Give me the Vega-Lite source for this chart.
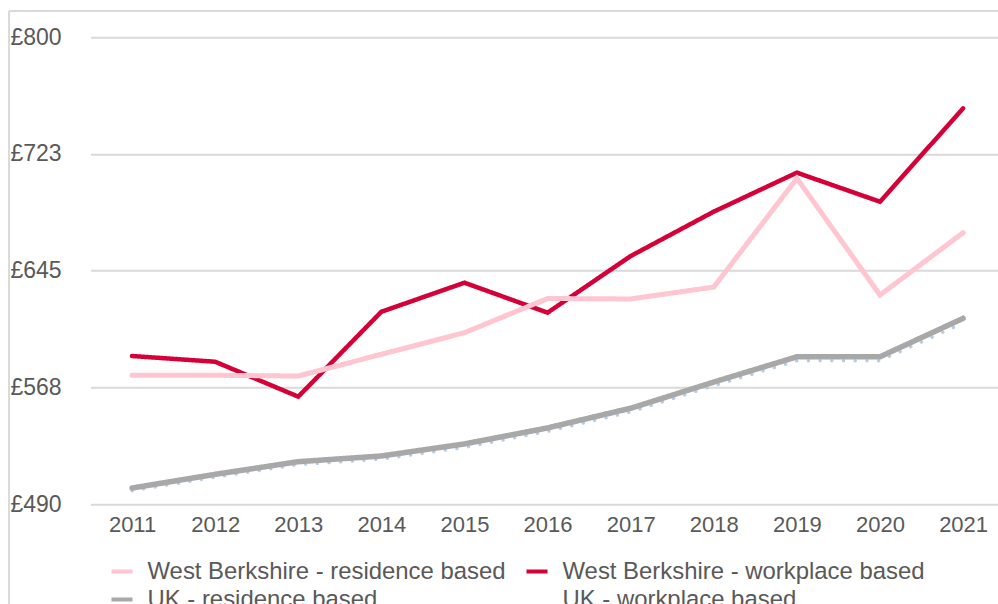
{
  "$schema": "https://vega.github.io/schema/vega-lite/v6.json",
  "autosize": {"type": "none"},
  "padding": {"left": 90.5, "top": 37.3, "right": 0, "bottom": 100},
  "width": 907.5,
  "height": 466.7,
  "config": {
    "font": "Liberation Sans",
    "view": {"stroke": null},
    "axis": {"labelColor": "#595959", "labelFont": "Liberation Sans"},
    "legend": {"labelColor": "#595959", "labelFont": "Liberation Sans"}
  },
  "layer": [
    {
      "data": {
        "values": [
          {"year": 2011, "series": "West Berkshire - workplace based", "pay": 588.3},
          {"year": 2012, "series": "West Berkshire - workplace based", "pay": 584.5},
          {"year": 2013, "series": "West Berkshire - workplace based", "pay": 561.3},
          {"year": 2014, "series": "West Berkshire - workplace based", "pay": 617.7},
          {"year": 2015, "series": "West Berkshire - workplace based", "pay": 637.0},
          {"year": 2016, "series": "West Berkshire - workplace based", "pay": 617.1},
          {"year": 2017, "series": "West Berkshire - workplace based", "pay": 654.7},
          {"year": 2018, "series": "West Berkshire - workplace based", "pay": 684.2},
          {"year": 2019, "series": "West Berkshire - workplace based", "pay": 710.1},
          {"year": 2020, "series": "West Berkshire - workplace based", "pay": 690.8},
          {"year": 2021, "series": "West Berkshire - workplace based", "pay": 752.8},
          {"year": 2011, "series": "West Berkshire - residence based", "pay": 575.5},
          {"year": 2012, "series": "West Berkshire - residence based", "pay": 575.5},
          {"year": 2013, "series": "West Berkshire - residence based", "pay": 575.0},
          {"year": 2014, "series": "West Berkshire - residence based", "pay": 589.4},
          {"year": 2015, "series": "West Berkshire - residence based", "pay": 603.8},
          {"year": 2016, "series": "West Berkshire - residence based", "pay": 626.5},
          {"year": 2017, "series": "West Berkshire - residence based", "pay": 626.2},
          {"year": 2018, "series": "West Berkshire - residence based", "pay": 634.1},
          {"year": 2019, "series": "West Berkshire - residence based", "pay": 706.3},
          {"year": 2020, "series": "West Berkshire - residence based", "pay": 628.8},
          {"year": 2021, "series": "West Berkshire - residence based", "pay": 670.2},
          {"year": 2011, "series": "UK - workplace based", "pay": 498.8},
          {"year": 2012, "series": "UK - workplace based", "pay": 507.8},
          {"year": 2013, "series": "UK - workplace based", "pay": 516.2},
          {"year": 2014, "series": "UK - workplace based", "pay": 519.8},
          {"year": 2015, "series": "UK - workplace based", "pay": 527.6},
          {"year": 2016, "series": "UK - workplace based", "pay": 538.2},
          {"year": 2017, "series": "UK - workplace based", "pay": 551.2},
          {"year": 2018, "series": "UK - workplace based", "pay": 568.6},
          {"year": 2019, "series": "UK - workplace based", "pay": 585.2},
          {"year": 2020, "series": "UK - workplace based", "pay": 585.2},
          {"year": 2021, "series": "UK - workplace based", "pay": 610.2},
          {"year": 2011, "series": "UK - residence based", "pay": 500.6},
          {"year": 2012, "series": "UK - residence based", "pay": 509.7},
          {"year": 2013, "series": "UK - residence based", "pay": 518.1},
          {"year": 2014, "series": "UK - residence based", "pay": 521.9},
          {"year": 2015, "series": "UK - residence based", "pay": 529.9},
          {"year": 2016, "series": "UK - residence based", "pay": 540.5},
          {"year": 2017, "series": "UK - residence based", "pay": 553.6},
          {"year": 2018, "series": "UK - residence based", "pay": 571.0},
          {"year": 2019, "series": "UK - residence based", "pay": 587.8},
          {"year": 2020, "series": "UK - residence based", "pay": 587.8},
          {"year": 2021, "series": "UK - residence based", "pay": 613.3}
        ]
      },
      "encoding": {
        "x": {
          "field": "year", "type": "quantitative",
          "scale": {"domain": [2010.5, 2021.42], "nice": false, "zero": false},
          "axis": {
            "title": null, "values": [2011, 2012, 2013, 2014, 2015, 2016, 2017, 2018, 2019, 2020, 2021],
            "format": "d", "grid": false, "domain": false, "ticks": false, "tickSize": 0,
            "labelFontSize": 22, "labelPadding": 10.5, "labelFlush": false, "labelOverlap": false
          }
        },
        "y": {
          "field": "pay", "type": "quantitative",
          "scale": {"domain": [490, 800], "nice": false, "zero": false},
          "axis": {
            "title": null, "values": [490, 567.5, 645, 722.5, 800],
            "labelExpr": "'£' + format(datum.value, '.0f')",
            "grid": true, "gridColor": "#d9d9d9", "gridWidth": 2,
            "domain": false, "ticks": false, "tickSize": 0,
            "labelAlign": "left", "labelBaseline": "middle", "labelPadding": 80.5,
            "labelFontSize": 23, "labelFlush": false, "labelOverlap": false
          }
        },
        "color": {
          "field": "series", "type": "nominal",
          "scale": {
            "domain": ["West Berkshire - residence based", "West Berkshire - workplace based", "UK - residence based", "UK - workplace based"],
            "range": ["#ffc5d0", "#d50037", "#a8a8a8", "#b4cde8"]
          },
          "legend": {
            "title": null, "orient": "none", "legendX": 19, "legendY": 521.5,
            "columns": 2, "direction": "horizontal", "padding": 0,
            "symbolType": "stroke", "symbolSize": 441, "symbolStrokeWidth": 4,
            "labelFontSize": 23.9, "labelOffset": 13, "labelLimit": 600,
            "columnPadding": 12, "rowPadding": 3.3
          }
        },
        "strokeDash": {
          "field": "series", "type": "nominal",
          "scale": {
            "domain": ["West Berkshire - residence based", "West Berkshire - workplace based", "UK - residence based", "UK - workplace based"],
            "range": [[1, 0], [1, 0], [1, 0], [0.01, 11.7]]
          },
          "legend": null
        }
      },
      "layer": [
        {
          "transform": [{"filter": "datum.series === 'West Berkshire - workplace based'"}],
          "mark": {"type": "line", "strokeWidth": 4.5, "strokeCap": "round", "strokeJoin": "miter"}
        },
        {
          "transform": [{"filter": "datum.series === 'West Berkshire - residence based'"}],
          "mark": {"type": "line", "strokeWidth": 5, "strokeCap": "round", "strokeJoin": "miter"}
        },
        {
          "transform": [{"filter": "datum.series === 'UK - workplace based'"}],
          "mark": {"type": "line", "strokeWidth": 3.5, "strokeCap": "round"}
        },
        {
          "transform": [{"filter": "datum.series === 'UK - residence based'"}],
          "mark": {"type": "line", "strokeWidth": 5.5, "strokeCap": "round", "strokeJoin": "miter"}
        }
      ]
    },
    {
      "data": {"values": [{}]},
      "mark": {"type": "rule", "color": "#d9d9d9", "strokeWidth": 2},
      "encoding": {
        "x": {"datum": 2009.52, "type": "quantitative"},
        "x2": {"datum": 2022.5},
        "y": {"datum": 817.47, "type": "quantitative"}
      }
    },
    {
      "data": {"values": [{}]},
      "mark": {"type": "rule", "color": "#d9d9d9", "strokeWidth": 2},
      "encoding": {
        "x": {"datum": 2009.52, "type": "quantitative"},
        "y": {"datum": 817.47, "type": "quantitative"},
        "y2": {"datum": 380}
      }
    }
  ]
}
